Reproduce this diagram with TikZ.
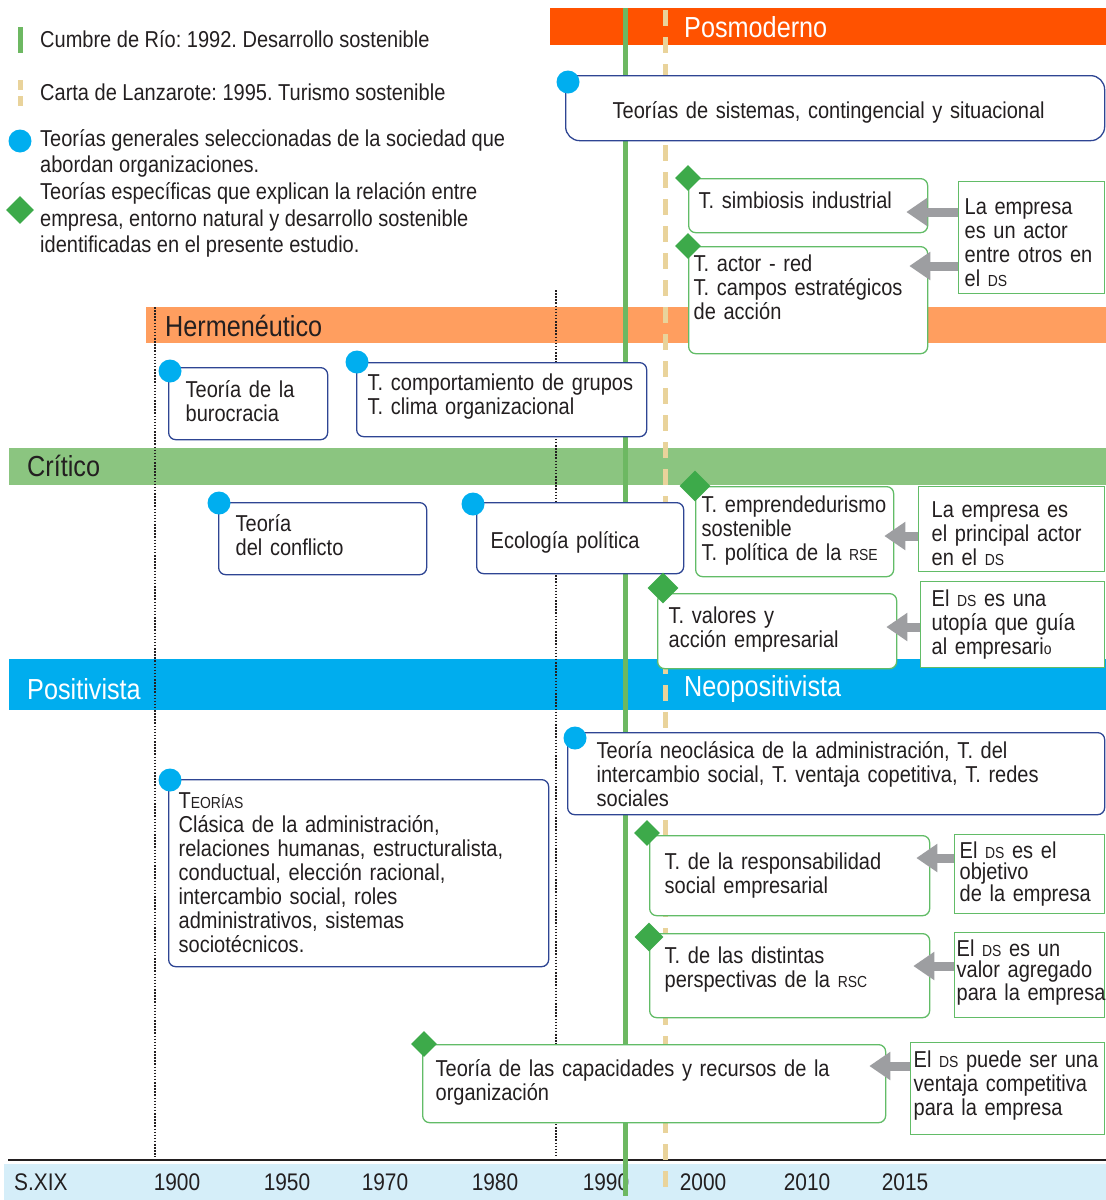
\documentclass[tikz,border=0pt]{standalone}
\usepackage{fontspec}
\setmainfont{Liberation Sans}[FakeStretch=0.87]
\usepackage{tikz}
\usetikzlibrary{shapes, positioning}
\usetikzlibrary{calc}
\usetikzlibrary{arrows.meta}
\frenchspacing

\definecolor{tinta}{HTML}{231F20}
\definecolor{rojizo}{HTML}{FF5200}
\definecolor{naranja}{HTML}{FF9E5F}
\definecolor{verdeband}{HTML}{8BC580}
\definecolor{azulband}{HTML}{00ADEE}
\definecolor{celeste}{HTML}{D5EEF9}
\definecolor{verdelinea}{HTML}{6DB862}
\definecolor{arena}{HTML}{E9D39B}
\definecolor{azulpunto}{HTML}{00AEEF}
\definecolor{verderombo}{HTML}{3DAA4A}
\definecolor{marino}{HTML}{2E4593}
\definecolor{verdecaja}{HTML}{62BC67}
\definecolor{gris}{HTML}{9D9EA1}

\newcommand\cuerpo{\fontsize{23}{24}\selectfont}
\newcommand\leyenda{\fontsize{23}{26.5}\selectfont}
\newcommand\rotulo{\fontsize{29}{30}\selectfont}
\newcommand\fanio{\fontsize{24}{26}\selectfont}
\newcommand\sig[1]{{\fontsize{16}{16}\selectfont #1}}
\newcommand\lift[1]{\rule[-#1pt]{0pt}{#1pt}}
\newcommand\drop[1]{\rule{0pt}{#1pt}}

\begin{document}
\begin{tikzpicture}[x=1pt, y=-1pt,
		caja/.style={line width=1.3pt, fill=white, anchor=north west, align=left, font=\cuerpo, text=tinta, inner ysep=0pt},
		teoria/.style={caja, draw=marino, rounded corners=7pt},
		especifica/.style={caja, draw=verdecaja, rounded corners=7pt},
		nota/.style={caja, draw=verdecaja},
		leyenda/.style={anchor=west, inner sep=0pt, align=left, font=\leyenda, text=tinta},
		banda/.style={anchor=west, inner sep=0pt, font=\rotulo, text=tinta},
		anio/.style={inner sep=0pt, font=\fanio, text=tinta},
		punto/.style={circle, fill=azulpunto, inner sep=0pt, minimum size=23pt},
		rombo/.style={diamond, fill=verderombo, inner sep=0pt, minimum size=#1}, rombo/.default=26pt,
		punteado/.style={tinta, line width=1.6pt, dash pattern=on 1.5pt off 1.6pt},
		flecha/.style={draw=gris, line width=9pt, -{Triangle[length=21pt, width=27pt]}}]
	\useasboundingbox (0,0) rectangle (1106,1200);

	% bandas
	\fill[rojizo] (550,8) rectangle (1106,45);
	\fill[naranja] (146,307) rectangle (1106,343);
	\fill[verdeband] (9,448) rectangle (1106,485);
	\fill[azulband] (9,659) rectangle (1106,710);
	\fill[celeste] (4,1164) rectangle (1106,1200);
	\draw[tinta, line width=2.5pt] (8,1160) -- (1106,1160);

	\node[banda, text=white] (posm) at (684,27) {Posmoderno};
	\node[banda] (herm) at (165,326) {Hermenéutico};
	\node[banda] (crit) at (27,466) {Crítico};
	\node[banda, text=white] (posi) at (27,689) {Positivista};
	\node[banda, text=white] (neop) at (684,689) {Neopositivista};

	\node[anio, anchor=west] (sxix) at (14,1182) {S.XIX};
	\foreach \a/\x in {1900/177, 1950/287, 1970/385, 1980/495, 1990/606, 2000/703, 2010/807, 2015/905}
		\node[anio] (a\a) at (\x,1182) {\a};

	% lineas de tiempo
	\draw[punteado] (155,307) -- (155,1157);
	\draw[punteado] (556,290) -- (556,1157);
	\draw[verdelinea, line width=5pt] (625,8) -- (625,1196);
	\draw[arena, line width=5pt, dash pattern=on 16pt off 11pt] (665,10) -- (665,1196);

	% leyenda
	\draw[verdelinea, line width=5pt] (20,27) -- (20,53);
	\node[leyenda] (cumbre) at (40,39) {Cumbre de Río: 1992. Desarrollo sostenible};
	\draw[arena, line width=5pt, dash pattern=on 10pt off 6pt] (20,80) -- (20,106);
	\node[leyenda] (carta) at (40,92) {Carta de Lanzarote: 1995. Turismo sostenible};
	\node[punto] (lp) at (20,141) {};
	\node[leyenda] (lgen) at (40,153.5) {Teorías generales seleccionadas de la sociedad que\\abordan organizaciones.};
	\node[rombo=28pt] (lr) at (20,210) {};
	\node[leyenda] (lesp) at (40,220) {Teorías específicas que explican la relación entre\\empresa, entorno natural y desarrollo sostenible\\identificadas en el presente estudio.};

	% teorias generales
	\node[teoria, rounded corners=14pt, text width=445pt, inner xsep=47pt, minimum height=65pt] (sis) at (565,75) {\drop{26}Teorías de sistemas, contingencial y situacional};
	\node[teoria, text width=125pt, inner xsep=17pt, minimum height=72pt] (buro) at (168,367) {Teoría de la\\burocracia\lift{6}};
	\node[teoria, text width=268pt, inner xsep=11pt, minimum height=74pt] (comp) at (356,362) {T. comportamiento de grupos\\T. clima organizacional\lift{10}};
	\node[teoria, text width=174pt, inner xsep=17pt, minimum height=72pt] (conf) at (218,502) {Teoría\\del conflicto\lift{8}};
	\node[teoria, text width=179pt, inner xsep=14pt, minimum height=71pt] (eco) at (476,502) {\drop{25}Ecología política};
	\node[teoria, text width=479pt, inner xsep=29pt, minimum height=82pt] (neo) at (567,732) {Teoría neoclásica de la administración, T. del\\intercambio social, T. ventaja copetitiva, T. redes\\sociales};
	\node[teoria, text width=360pt, inner xsep=10pt, minimum height=187pt] (clas) at (168,779) {T\sig{EORÍAS}\\Clásica de la administración,\\relaciones humanas, estructuralista,\\conductual, elección racional,\\intercambio social, roles\\administrativos, sistemas\\sociotécnicos.};

	% teorias especificas
	\node[especifica, text width=219pt, inner xsep=10pt, minimum height=54pt] (simb) at (688,178) {T. simbiosis industrial\lift{10}};
	\node[especifica, text width=229pt, inner xsep=5pt, minimum height=107pt] (actor) at (688,246) {T. actor - red\\T. campos estratégicos\\de acción\lift{26}};
	\node[especifica, text width=186pt, inner xsep=6pt, minimum height=90pt] (empr) at (695,486) {T. emprendedurismo\\sostenible\\T. política de la \sig{RSE}\lift{6}};
	\node[especifica, text width=217pt, inner xsep=11pt, minimum height=75pt] (valo) at (657,593) {T. valores y\\acción empresarial\lift{8}};
	\node[especifica, text width=250pt, inner xsep=15pt, minimum height=80pt] (resp) at (649,835) {T. de la responsabilidad\\social empresarial\lift{4}};
	\node[especifica, text width=250pt, inner xsep=15pt, minimum height=84pt] (dist) at (649,933) {T. de las distintas\\perspectivas de la \sig{RSC}\lift{16}};
	\node[especifica, text width=437pt, inner xsep=13pt, minimum height=78pt] (capa) at (422,1044) {Teoría de las capacidades y recursos de la\\organización\lift{8}};

	% notas
	\node[nota, text width=134pt, inner xsep=6pt, minimum height=112pt] (nA) at (958,181) {\drop{25}La empresa\\es un actor\\entre otros en\\el \sig{DS}};
	\node[nota, text width=160pt, inner xsep=13pt, minimum height=85pt] (nB) at (918,486) {\drop{25}La empresa es\\el principal actor\\en el \sig{DS}};
	\node[nota, text width=162pt, inner xsep=11pt, minimum height=86pt] (nC) at (920,581) {El \sig{DS} es una\\utopía que guía\\al empresari\sig{o}\lift{4}};
	\node[nota, font=\fontsize{23}{21}\selectfont, text width=140pt, inner xsep=5pt, minimum height=79pt] (nD) at (954,834) {El \sig{DS} es el\\objetivo\\de la empresa};
	\node[nota, font=\fontsize{23}{21}\selectfont, text width=146pt, inner xsep=2pt, minimum height=85pt] (nE) at (954,932) {\mbox{El \sig{DS} es un}\\\mbox{valor agregado}\\\mbox{para la empresa}\lift{10}};
	\node[nota, text width=188pt, inner xsep=3pt, minimum height=92pt] (nF) at (910,1042) {\mbox{El \sig{DS} puede ser una}\\\mbox{ventaja competitiva}\\\mbox{para la empresa}\lift{10}};

	% marcas
	\node[punto] (p1) at ([shift={(3,7)}]sis.north west) {};
	\node[punto] (p2) at ([shift={(2,4)}]buro.north west) {};
	\node[punto] (p3) at ([shift={(1,0)}]comp.north west) {};
	\node[punto] (p4) at ([shift={(1,1)}]conf.north west) {};
	\node[punto] (p5) at ([shift={(-3,2)}]eco.north west) {};
	\node[punto] (p6) at ([shift={(8,6)}]neo.north west) {};
	\node[punto] (p7) at ([shift={(2,1)}]clas.north west) {};
	\node[rombo] (r1) at (simb.north west) {};
	\node[rombo] (r2) at (actor.north west) {};
	\node[rombo=31pt] (r3) at (empr.north west) {};
	\node[rombo=31pt] (r4) at ([shift={(6,-5)}]valo.north west) {};
	\node[rombo] (r5) at ([shift={(-2,-2)}]resp.north west) {};
	\node[rombo=29pt] (r6) at ([shift={(0,4)}]dist.north west) {};
	\node[rombo] (r7) at ([shift={(2,0)}]capa.north west) {};

	% flechas
	\foreach \n/\b/\dx/\dy in {nA/simb/22/34, nA/actor/19/20, nB/empr/10/50, nC/valo/11/34, nD/resp/14/23, nE/dist/17/33, nF/capa/17/22} {
		\coordinate (t) at ([xshift=-\dx pt, yshift=-\dy pt]\b.north east);
		\draw[flecha] (\n.west |- t) -- (t);
	}
\end{tikzpicture}
\end{document}
